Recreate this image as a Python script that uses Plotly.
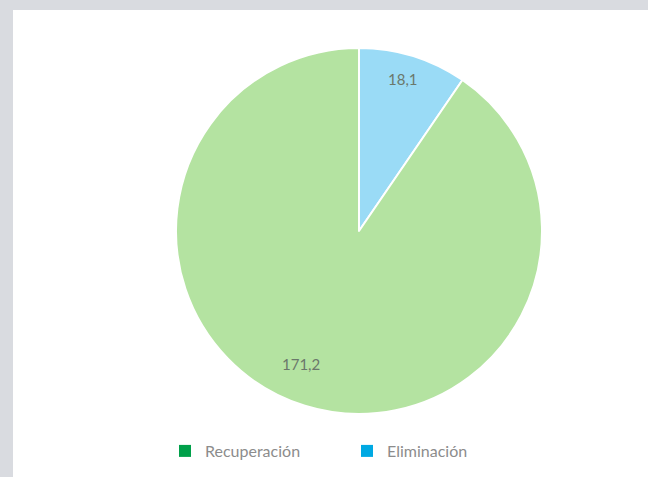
import math
import plotly.graph_objects as go

categories = ["Recuperación", "Eliminación"]
values = [171.2, 18.1]
value_labels = ["171,2", "18,1"]
slice_colors = ["#b4e3a1", "#9adbf6"]
legend_colors = ["#00a04a", "#00a9e3"]
label_radius = [0.793, 0.865]
label_angle_shift = [6.4, -1.1]

W, H = 648, 477
cx, cy, r = 359, 231, 183

# pie drawn clockwise from 12 o'clock starting with Eliminación
order = [1, 0]
fig = go.Figure()
fig.add_trace(go.Pie(
    labels=[categories[i] for i in order], values=[values[i] for i in order],
    text=[value_labels[i] for i in order],
    textinfo="none", sort=False, direction="clockwise", rotation=0,
    marker=dict(colors=[slice_colors[i] for i in order], line=dict(color="white", width=2)),
    showlegend=False, hoverinfo="label+text",
    domain=dict(x=[(cx - r) / W, (cx + r) / W], y=[1 - (cy + r) / H, 1 - (cy - r) / H]),
))

total = sum(values)
annotations = []
start = 0.0
for i in order:
    span = values[i] / total * 360
    mid = start + span / 2
    start += span
    ang = math.radians(mid + label_angle_shift[i])
    dx = r * label_radius[i] * math.sin(ang)
    dy = r * label_radius[i] * math.cos(ang)
    annotations.append(dict(
        x=(cx + dx) / W, y=1 - (cy - dy) / H, xref="paper", yref="paper",
        xanchor="center", yanchor="middle",
        text=value_labels[i], showarrow=False,
        font=dict(family="Lato", size=15, color="#6b786b")))

for i, (name, col) in enumerate(zip(categories, legend_colors)):
    fig.add_trace(go.Scatter(x=[None], y=[None], mode="markers", name=name,
                             legend="legend" if i == 0 else "legend2",
                             marker=dict(symbol="square", size=12, color=col)))

legend_style = dict(orientation="h", yanchor="middle", y=1 - 451 / H, xanchor="left",
                    font=dict(family="Lato", size=16, color="#8c8c8c"), itemwidth=30,
                    bgcolor="rgba(0,0,0,0)")

fig.update_layout(
    width=W, height=H, margin=dict(l=0, r=0, t=0, b=0),
    paper_bgcolor="#d9dbe0", plot_bgcolor="rgba(0,0,0,0)",
    xaxis=dict(visible=False), yaxis=dict(visible=False),
    shapes=[dict(type="rect", xref="paper", yref="paper", x0=13 / W, x1=1.01,
                 y0=-0.01, y1=1 - 10 / H, fillcolor="white", line=dict(width=0), layer="below")],
    legend=dict(x=165 / W, **legend_style),
    legend2=dict(x=347 / W, **legend_style),
    annotations=annotations,
    font=dict(family="Lato"),
)
fig.write_html("out.html", config={"displayModeBar": False},
               post_script="document.body.style.margin='0';")
